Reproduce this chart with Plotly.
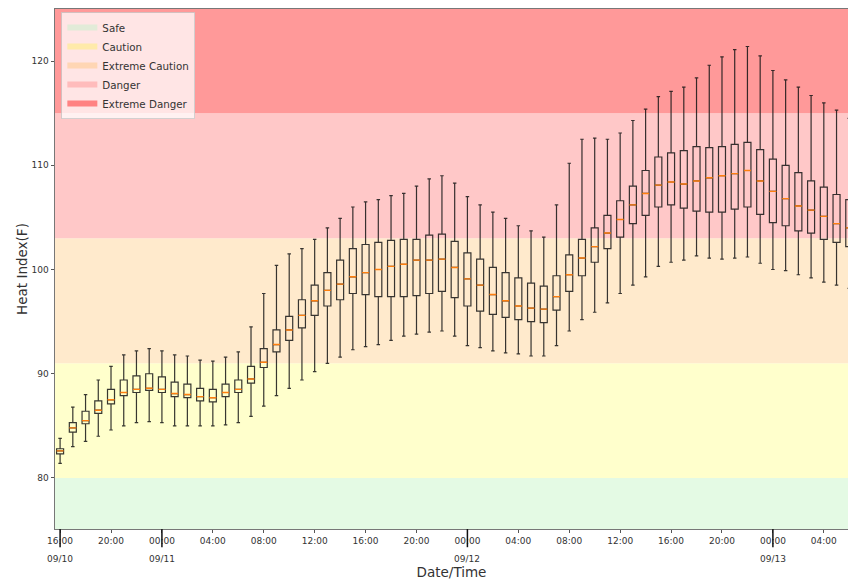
import pandas as pd
import plotly.graph_objects as go

# ---------------- data ----------------
start_time = "2019-09-10 16:00"
upper = [83.8, 86.8, 88.0, 89.4, 90.7, 91.8, 92.2, 92.4, 92.2, 91.8, 91.7, 91.3, 91.2, 91.6, 92.1,
         94.5, 97.7, 100.4, 101.5, 102.0, 102.9, 104.0, 104.9, 106.0, 106.5, 106.7, 107.1, 107.3,
         108.0, 108.7, 109.0, 108.3, 107.0, 106.2, 105.5, 104.9, 104.2, 103.7, 103.1, 106.2, 110.2,
         112.5, 112.6, 112.5, 113.1, 114.3, 115.4, 116.6, 117.1, 117.5, 118.4, 119.6, 120.4, 121.1,
         121.4, 120.5, 119.1, 118.2, 117.5, 116.7, 116.0, 115.3, 114.5]
q3 = [82.8, 85.3, 86.4, 87.4, 88.5, 89.4, 89.8, 90.0, 89.7, 89.2, 89.0, 88.6, 88.5, 89.0, 89.4,
      90.7, 92.4, 94.2, 95.5, 97.1, 98.5, 99.7, 100.9, 102.0, 102.4, 102.6, 102.8, 102.9,
      102.9, 103.3, 103.4, 102.7, 101.6, 101.0, 100.2, 99.7, 99.2, 98.7, 98.4, 99.4, 101.4,
      102.9, 104.0, 105.2, 106.6, 108.0, 109.5, 110.8, 111.2, 111.4, 111.8, 111.7, 111.8, 112.0,
      112.2, 111.5, 110.6, 110.0, 109.3, 108.5, 107.9, 107.2, 106.7]
median = [82.6, 84.8, 85.5, 86.5, 87.5, 88.2, 88.5, 88.6, 88.5, 88.1, 88.0, 87.8, 87.7, 88.2, 88.5,
          89.5, 91.1, 92.8, 94.2, 95.6, 97.0, 98.0, 98.6, 99.3, 99.7, 100.0, 100.3, 100.5,
          100.9, 100.9, 101.0, 100.2, 99.1, 98.5, 97.6, 97.0, 96.5, 96.3, 96.2, 97.4, 99.5,
          101.1, 102.2, 103.5, 104.8, 106.2, 107.3, 108.1, 108.4, 108.2, 108.5, 108.8, 109.0, 109.2,
          109.5, 108.5, 107.5, 106.8, 106.1, 105.7, 105.1, 104.4, 104.0]
q1 = [82.3, 84.4, 85.2, 86.2, 87.1, 87.9, 88.2, 88.4, 88.2, 87.8, 87.7, 87.4, 87.3, 87.8, 88.2,
      89.1, 90.6, 92.1, 93.2, 94.4, 95.6, 96.5, 97.1, 97.7, 97.6, 97.4, 97.4, 97.4,
      97.5, 97.7, 97.9, 97.3, 96.5, 96.0, 95.7, 95.4, 95.2, 95.0, 94.9, 96.1, 97.9,
      99.4, 100.7, 102.0, 103.1, 104.4, 105.2, 106.0, 106.2, 105.9, 105.6, 105.5, 105.5, 105.8,
      106.0, 105.3, 104.5, 104.2, 103.7, 103.5, 102.9, 102.6, 102.2]
lower = [81.4, 83.0, 83.5, 84.0, 84.6, 85.0, 85.3, 85.4, 85.3, 85.0, 85.0, 85.0, 85.0, 85.1, 85.3,
         85.9, 86.9, 87.9, 88.6, 89.4, 90.2, 91.0, 91.6, 92.3, 92.6, 92.8, 93.2, 93.6,
         93.8, 94.0, 94.1, 93.6, 92.7, 92.5, 92.2, 92.0, 91.9, 91.7, 91.7, 92.7, 94.1,
         95.2, 95.9, 96.8, 97.7, 98.5, 99.3, 100.3, 100.7, 100.9, 101.3, 101.1, 101.0, 101.1,
         101.2, 100.6, 100.0, 99.9, 99.5, 99.2, 98.8, 98.5, 98.2]

band_names = ["Safe", "Caution", "Extreme Caution", "Danger", "Extreme Danger"]
band_edges = [75.1, 80, 91, 103, 115, 125.0]
band_colors = ["#e4fae4", "#ffffcc", "#ffeacc", "#ffc8c8", "#ff9999"]
legend_colors = ["#e2ebd8", "#ffeaaa", "#ffd6b4", "#ffbcbc", "#ff8282"]

tick_labels = ["16:00", "20:00", "00:00", "04:00", "08:00", "12:00", "16:00", "20:00",
               "00:00", "04:00", "08:00", "12:00", "16:00", "20:00", "00:00", "04:00",
               "08:00", "12:00", "16:00", "20:00", "00:00", "04:00"]
date_labels = ["09/10", "09/11", "09/12", "09/13"]
date_label_times = ["2019-09-10 16:00", "2019-09-11 00:00", "2019-09-12 00:00", "2019-09-13 00:00"]

x_range = ["2019-09-10 15:36", "2019-09-13 05:54"]

# ---------------- figure ----------------
times = pd.date_range(start_time, periods=len(median), freq="h")
tick_vals = pd.date_range(start_time, periods=len(tick_labels), freq="4h")

fig = go.Figure()

shapes = []
for name, lo, hi, col, lcol in zip(band_names, band_edges[:-1], band_edges[1:], band_colors, legend_colors):
    shapes.append(dict(type="rect", xref="paper", yref="y", x0=0, x1=1, y0=lo, y1=hi,
                       fillcolor=col, line=dict(width=0), layer="below"))
    # legend entry (zero-area fill)
    fig.add_trace(go.Scatter(
        x=[x_range[0]] * 3, y=[lo] * 3,
        fill="toself", fillcolor=lcol, mode="none", name=name,
        hoverinfo="skip", showlegend=True))

box_w = 0.55 * 3600 * 1000
fig.add_trace(go.Box(
    x=list(times), q1=q1, median=median, q3=q3, lowerfence=lower, upperfence=upper,
    line=dict(color="rgba(20,20,20,0.85)", width=1.2), fillcolor="rgba(0,0,0,0)",
    whiskerwidth=0.5, width=box_w, boxpoints=False, showlegend=False))
fig.add_trace(go.Box(
    x=list(times), q1=median, median=median, q3=median, lowerfence=median, upperfence=median,
    line=dict(color="#ff7f0e", width=1.4), fillcolor="rgba(0,0,0,0)",
    whiskerwidth=0, width=box_w, boxpoints=False, showlegend=False))

for t in date_label_times:
    shapes.append(dict(type="line", xref="x", yref="paper", x0=t, x1=t, y0=0, y1=-0.035,
                       line=dict(color="#111", width=1.5)))
annotations = []
for t, lab in zip(date_label_times, date_labels):
    annotations.append(dict(x=t, y=0, xref="x", yref="paper", yanchor="top", yshift=-23,
                            text=lab, showarrow=False, font=dict(size=9, color="#333")))

fig.update_layout(
    width=848, height=581,
    margin=dict(l=55, r=0, t=9, b=52),
    paper_bgcolor="white", plot_bgcolor="white",
    boxmode="overlay",
    font=dict(family="DejaVu Sans", color="#333"),
    shapes=shapes, annotations=annotations,
    legend=dict(x=0.008, y=0.994, xanchor="left", yanchor="top",
                bgcolor="rgba(255,255,255,0.75)", bordercolor="rgba(200,200,200,0.8)",
                borderwidth=1, font=dict(size=10.3, color="#333"), traceorder="normal",
                tracegroupgap=0),
    xaxis=dict(type="date", range=x_range, tickvals=list(tick_vals), ticktext=tick_labels,
               ticks="outside", ticklen=3, tickcolor="#555", tickfont=dict(size=9, color="#333"),
               showgrid=False, zeroline=False, showline=True, linecolor="#777", mirror=True,
               automargin=False,
               title=dict(text="Date/Time", font=dict(size=13.5, color="#333"), standoff=22)),
    yaxis=dict(range=[band_edges[0], band_edges[-1]], tickvals=[80, 90, 100, 110, 120],
               ticks="outside", ticklen=3.5, tickcolor="#555", tickfont=dict(size=9, color="#333"),
               showgrid=False, zeroline=False, showline=True, linecolor="#777", mirror=True,
               automargin=False,
               title=dict(text="Heat Index(F)", font=dict(size=13.5, color="#333"), standoff=0)),
)

fig.write_html("out.html", config={"displayModeBar": False},
               post_script="document.body.style.margin='0';document.body.style.overflow='hidden';")
